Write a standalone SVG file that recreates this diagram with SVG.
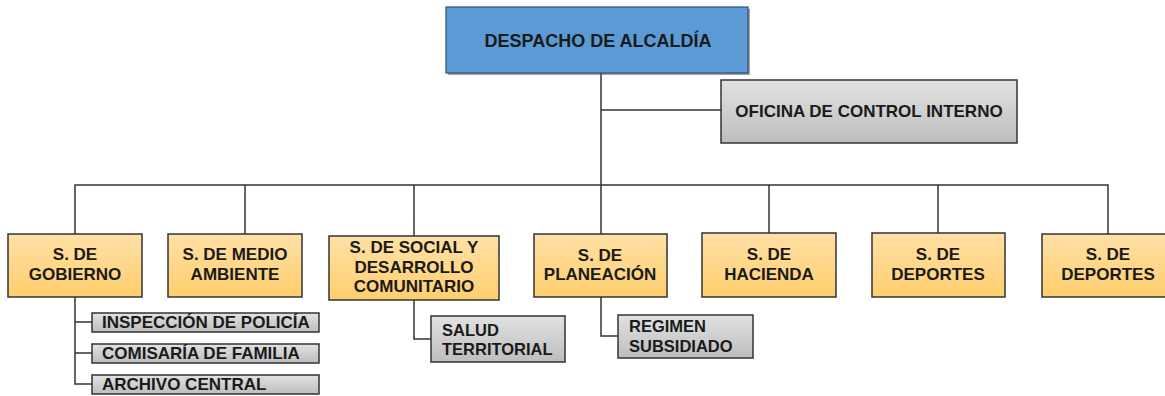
<svg xmlns="http://www.w3.org/2000/svg" width="1165" height="396" viewBox="0 0 1165 396">
<defs>
<linearGradient id="gOr" x1="0" y1="0" x2="0" y2="1">
<stop offset="0" stop-color="#FFE0A6"/>
<stop offset="1" stop-color="#FFCF6E"/>
</linearGradient>
<linearGradient id="gGr" x1="0" y1="0" x2="0" y2="1">
<stop offset="0" stop-color="#E2E2E2"/>
<stop offset="1" stop-color="#BDBDBD"/>
</linearGradient>
</defs>
<style>
text{font-family:"Liberation Sans",Arial,sans-serif;font-weight:bold;fill:#1a1a1a;}
.t{font-size:17px;text-anchor:middle;}
.s{font-size:16.5px;}
.or{fill:url(#gOr);stroke:#333;stroke-width:1.5;}
.gr{fill:url(#gGr);stroke:#333;stroke-width:1.5;}
.bl{fill:#5B9BD5;stroke:#2F4F6F;stroke-width:1.2;}
.sh{fill:#555;opacity:0.55;}
.c{fill:none;stroke:#333;stroke-width:1.5;}
</style>
<g id="connectors">
<path class="c" d="M601 73V185M601 110H721"/>
<path class="c" d="M75 234V185H1108V234M245 185V234M414 185V236M601 185V234M769 185V233M938 185V233"/>
<path class="c" d="M75 297V384H92M75 322H92M75 353H92"/>
<path class="c" d="M414 300V339H431"/>
<path class="c" d="M601 297V336H618"/>
</g>
<g id="despacho">
<rect class="sh" x="448" y="9" width="302" height="66"/>
<rect class="bl" x="446" y="7" width="302" height="66"/>
<text class="t" x="598" y="47" style="font-size:18px">DESPACHO DE ALCALDÍA</text>
</g>
<g id="oci">
<rect class="gr" x="721" y="80" width="296" height="63"/>
<text class="t" x="869" y="117">OFICINA DE CONTROL INTERNO</text>
</g>
<g id="gobierno">
<rect class="or" x="8" y="234" width="134" height="63"/>
<text class="t" x="75" y="260">S. DE</text>
<text class="t" x="75" y="280">GOBIERNO</text>
</g>
<g id="medio-ambiente">
<rect class="or" x="168" y="234" width="134" height="63"/>
<text class="t" x="235" y="260">S. DE MEDIO</text>
<text class="t" x="235" y="280">AMBIENTE</text>
</g>
<g id="social">
<rect class="or" x="329" y="236" width="170" height="64"/>
<text class="t" x="414" y="253">S. DE SOCIAL Y</text>
<text class="t" x="414" y="273">DESARROLLO</text>
<text class="t" x="414" y="292">COMUNITARIO</text>
</g>
<g id="planeacion">
<rect class="or" x="534" y="234" width="133" height="63"/>
<text class="t" x="600" y="261">S. DE</text>
<text class="t" x="600" y="280">PLANEACIÓN</text>
</g>
<g id="hacienda">
<rect class="or" x="702" y="233" width="134" height="64"/>
<text class="t" x="769" y="260">S. DE</text>
<text class="t" x="769" y="280">HACIENDA</text>
</g>
<g id="deportes1">
<rect class="or" x="872" y="233" width="133" height="64"/>
<text class="t" x="938" y="260">S. DE</text>
<text class="t" x="938" y="280">DEPORTES</text>
</g>
<g id="deportes2">
<rect class="or" x="1042" y="234" width="134" height="63"/>
<text class="t" x="1108" y="260">S. DE</text>
<text class="t" x="1108" y="280">DEPORTES</text>
</g>
<g id="inspeccion">
<rect class="gr" x="92" y="313" width="227" height="19"/>
<text class="s" x="102" y="328" style="font-size:17px">INSPECCIÓN DE POLICÍA</text>
</g>
<g id="comisaria">
<rect class="gr" x="92" y="344" width="227" height="19"/>
<text class="s" x="102" y="359" style="font-size:17px">COMISARÍA DE FAMILIA</text>
</g>
<g id="archivo">
<rect class="gr" x="92" y="375" width="227" height="19"/>
<text class="s" x="102" y="390" style="font-size:17px">ARCHIVO CENTRAL</text>
</g>
<g id="salud">
<rect class="gr" x="431" y="316" width="134" height="46"/>
<text class="s" x="442" y="336">SALUD</text>
<text class="s" x="442" y="355">TERRITORIAL</text>
</g>
<g id="regimen">
<rect class="gr" x="618" y="315" width="135" height="43"/>
<text class="s" x="629" y="332">REGIMEN</text>
<text class="s" x="629" y="352">SUBSIDIADO</text>
</g>
</svg>
